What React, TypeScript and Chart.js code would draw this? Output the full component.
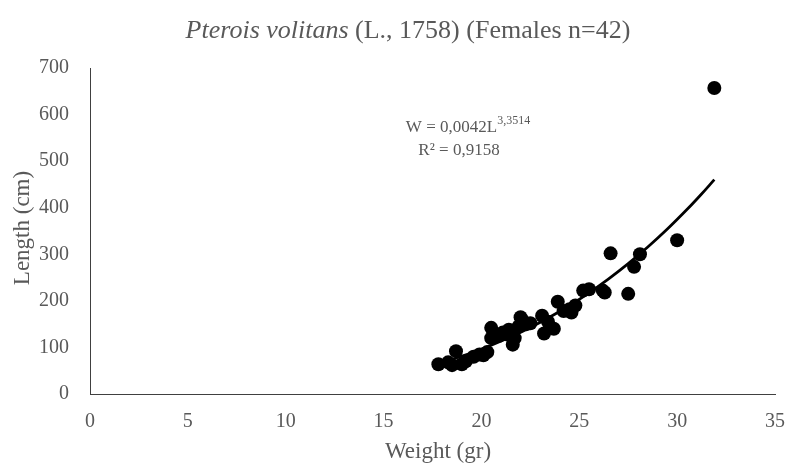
import React, { useEffect, useRef } from "react";
import { Chart, registerables } from "chart.js";

Chart.register(...registerables);

// Observed data (Weight on x, Length on y as labelled on the chart)
const weights = [
  17.8, 18.3, 18.5, 18.7, 19.0, 19.2, 19.6, 19.9, 20.1, 20.3,
  20.5, 20.5, 20.9, 21.1, 21.3, 21.4, 21.6, 21.7, 21.9, 22.0,
  22.1, 22.3, 22.5, 23.1, 23.2, 23.4, 23.7, 23.9, 24.2, 24.5,
  24.6, 24.8, 25.2, 25.5, 26.2, 26.3, 26.6, 27.5, 27.8, 28.1,
  30.0, 31.9,
];
const lengths = [
  64, 68, 62, 92, 64, 70, 80, 85, 83, 90,
  142, 120, 125, 132, 128, 138, 106, 120, 145, 165,
  158, 150, 152, 168, 130, 155, 140, 198, 178, 182,
  175, 190, 222, 225, 222, 218, 302, 215, 273, 300,
  330, 657,
];

const xTickValues = [0, 5, 10, 15, 20, 25, 30, 35];
const yTickValues = [0, 100, 200, 300, 400, 500, 600, 700];

// Power trendline shown on the chart: W = 0,0042 L^3,3514
const trendA = 0.0042;
const trendB = 3.3514;
const trendXs = [
  17.8, 18.5, 19.5, 20.5, 21.5, 22.5, 23.5, 24.5, 25.5, 26.5,
  27.5, 28.5, 29.5, 30.5, 31.2, 31.9,
];

const titleItalic = "Pterois volitans";
const titleRest = " (L., 1758) (Females n=42)";
const eqMain = "W = 0,0042L";
const eqSup = "3,3514";
const r2Text = "R\u00B2 = 0,9158";
const xTitle = "Weight (gr)";
const yTitle = "Length (cm)";

const FONT = '"Liberation Serif", "Times New Roman", serif';
const TEXT = "#595959";

const textPlugin = {
  id: "customText",
  afterDraw(chart: any) {
    const ctx = chart.ctx as CanvasRenderingContext2D;
    ctx.save();
    ctx.fillStyle = TEXT;
    ctx.textBaseline = "middle";
    ctx.textAlign = "left";

    // Title
    ctx.font = `italic 26px ${FONT}`;
    const w1 = ctx.measureText(titleItalic).width;
    ctx.font = `26px ${FONT}`;
    const w2 = ctx.measureText(titleRest).width;
    const tx = 408 - (w1 + w2) / 2;
    ctx.font = `italic 26px ${FONT}`;
    ctx.fillText(titleItalic, tx, 31);
    ctx.font = `26px ${FONT}`;
    ctx.fillText(titleRest, tx + w1, 31);

    // Equation
    ctx.font = `17px ${FONT}`;
    const e1 = ctx.measureText(eqMain).width;
    ctx.font = `12px ${FONT}`;
    const e2 = ctx.measureText(eqSup).width;
    const cx = 468;
    const ex = cx - (e1 + e2) / 2;
    ctx.font = `17px ${FONT}`;
    ctx.fillText(eqMain, ex, 128);
    ctx.font = `12px ${FONT}`;
    ctx.fillText(eqSup, ex + e1, 121);
    ctx.font = `17px ${FONT}`;
    ctx.textAlign = "center";
    ctx.fillText(r2Text, 459, 151);

    // Axis titles
    ctx.font = `23px ${FONT}`;
    ctx.fillText(xTitle, 438, 452);
    ctx.translate(23, 228);
    ctx.rotate(-Math.PI / 2);
    ctx.fillText(yTitle, 0, 0);
    ctx.restore();
  },
};

export default function App() {
  const ref = useRef<HTMLCanvasElement | null>(null);

  useEffect(() => {
    if (!ref.current) return;
    const points = weights.map((w, i) => ({ x: w, y: lengths[i] }));
    const trend = trendXs.map((x) => ({ x, y: trendA * Math.pow(x, trendB) }));

    const chart = new Chart(ref.current, {
      type: "scatter",
      data: {
        datasets: [
          {
            label: "trend",
            data: trend,
            showLine: true,
            borderColor: "#000000",
            borderWidth: 2.75,
            pointRadius: 0,
            tension: 0.4,
            fill: false,
            order: 2,
          } as any,
          {
            label: "data",
            data: points,
            backgroundColor: "#000000",
            borderColor: "#000000",
            pointRadius: 7,
            pointBorderWidth: 0,
            order: 1,
          },
        ],
      },
      options: {
        animation: false,
        responsive: false,
        devicePixelRatio: 1,
        layout: { padding: { top: 68, right: 8, left: 0, bottom: 0 } },
        plugins: {
          legend: { display: false },
          title: { display: false },
          tooltip: { enabled: false },
        },
        scales: {
          x: {
            type: "linear",
            min: 0,
            max: 35,
            afterBuildTicks: (s: any) => {
              s.ticks = xTickValues.map((v) => ({ value: v }));
            },
            afterFit: (s: any) => {
              s.height = 75;
            },
            grid: { display: false },
            border: { display: true, color: "#404040", width: 1 },
            ticks: {
              color: TEXT,
              font: { family: FONT, size: 20 },
              padding: 8,
              maxRotation: 0,
            },
          },
          y: {
            type: "linear",
            min: 0,
            max: 700,
            afterBuildTicks: (s: any) => {
              s.ticks = yTickValues.map((v) => ({ value: v }));
            },
            afterFit: (s: any) => {
              s.width = 90;
            },
            grid: { display: false },
            border: { display: true, color: "#404040", width: 1 },
            ticks: {
              color: TEXT,
              font: { family: FONT, size: 20 },
              padding: 13,
            },
          },
        },
      },
      plugins: [textPlugin],
    });
    return () => chart.destroy();
  }, []);

  return (
    <div style={{ position: "fixed", left: 0, top: 0, width: 793, height: 469, background: "#fff" }}>
      <canvas ref={ref} width={793} height={469} style={{ width: 793, height: 469, display: "block" }} />
    </div>
  );
}
